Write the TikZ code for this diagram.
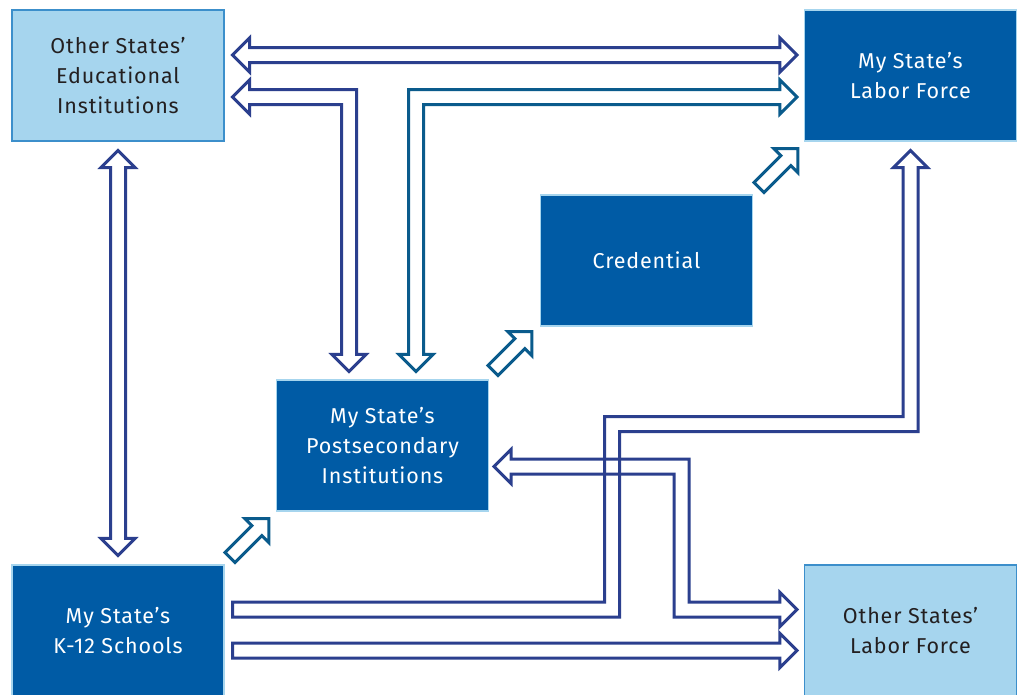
\documentclass[tikz,border=0pt]{standalone}
\usepackage{fontspec}
\setmainfont[LetterSpace=4]{Fira Sans}
\usetikzlibrary{calc}
\definecolor{lightbox}{HTML}{A6D5EE}
\definecolor{lightedge}{HTML}{3C8FCB}
\definecolor{darkbox}{HTML}{005BA5}
\definecolor{darkedge}{HTML}{A6D5EE}
\definecolor{navyar}{HTML}{2B3F8E}
\definecolor{tealar}{HTML}{0A5B8C}
\definecolor{boxtext}{HTML}{231F20}
\begin{document}
\begin{tikzpicture}[x=1pt,y=-1pt,
  box/.style={minimum width=212pt,minimum height=131pt,inner sep=0pt,align=center,
    font=\fontsize{21.5}{30}\selectfont,line width=1.2pt},
  lightnode/.style={box,fill=lightbox,draw=lightedge,text=boxtext},
  darknode/.style={box,fill=darkbox,draw=darkedge,text=white},
  navyarrow/.style={draw=navyar,line width=3pt,line join=miter},
  tealarrow/.style={draw=tealar,line width=3pt,line join=miter}]
\useasboundingbox (0,0) rectangle (1018,694);
\fill[white] (0,0) rectangle (1018,694);
% boxes
\node[lightnode] (oe) at (118,75.5) {Other States’\\Educational\\Institutions};
\node[darknode] (ml) at (910.5,75.5) {My State’s\\Labor Force};
\node[darknode] (cr) at (646.5,260.5) {Credential};
\node[darknode] (pi) at (382.5,445.5) {My State’s\\Postsecondary\\Institutions};
\node[darknode] (k12) at (118,630.5) {My State’s\\K-12 Schools};
\node[lightnode] (ol) at (910.5,630.5) {Other States’\\Labor Force};
% arrow end points
\coordinate (a1l) at ($(oe.east)+(8,-20.5)$);
\coordinate (a1r) at ($(ml.west)+(-7,-20.5)$);
\coordinate (a2l) at ($(oe.east)+(8,21.5)$);
\coordinate (a2b) at ($(pi.north)+(-33.5,-8)$);
\coordinate (a2c) at (a2b |- a2l);
\coordinate (a3b) at ($(pi.north)+(33.5,-8)$);
\coordinate (a3r) at ($(ml.west)+(-7,21.5)$);
\coordinate (a3c) at (a3b |- a3r);
\coordinate (a4t) at ($(oe.south)+(0,9)$);
\coordinate (a4b) at ($(k12.north)+(0,-9)$);
\coordinate (a5s) at ($(k12.east)+(8,-21)$);
\coordinate (a5t) at ($(ml.south)+(0,9)$);
\coordinate (c5a) at ($(a5s)+(379.5,0)$);
\coordinate (c5b) at ($(c5a)+(0,-185.5)$);
\coordinate (c5c) at (a5t |- c5b);
\coordinate (a6l) at ($(pi.east)+(5,21)$);
\coordinate (a6r) at ($(ol.west)+(-7,-21)$);
\coordinate (c6a) at ($(a6l)+(187.5,0)$);
\coordinate (c6b) at (c6a |- a6r);
\coordinate (a7s) at ($(k12.east)+(8,20)$);
\coordinate (a7r) at ($(ol.west)+(-7,20)$);
\coordinate (a8t) at ($(pi.south west)+(-7,7)$);
\coordinate (a9t) at ($(cr.south west)+(-8,5)$);
\coordinate (a10t) at ($(ml.south west)+(-6,7)$);
% A1: other ed <-> my labor force
\draw[navyarrow] (a1l) -- ++(17,-17) -- ++(0,9.5) -- ($(a1r)+(-17,-7.5)$) -- ++(0,-9.5) -- (a1r)
  -- ++(-17,17) -- ++(0,-9.5) -- ($(a1l)+(17,7.5)$) -- ++(0,9.5) -- cycle;
% A2: other ed <-> postsecondary
\draw[navyarrow] (a2l) -- ++(17,-17) -- ++(0,9.5) -- ($(a2c)+(7.5,-7.5)$) -- ($(a2b)+(7.5,-17)$)
  -- ++(9.5,0) -- (a2b) -- ++(-17,-17) -- ++(9.5,0) -- ($(a2c)+(-7.5,7.5)$)
  -- ($(a2l)+(17,7.5)$) -- ++(0,9.5) -- cycle;
% A3: postsecondary <-> my labor force
\draw[tealarrow] (a3b) -- ++(17,-17) -- ++(-9.5,0) -- ($(a3c)+(7.5,7.5)$) -- ($(a3r)+(-17,7.5)$)
  -- ++(0,9.5) -- (a3r) -- ++(-17,-17) -- ++(0,9.5) -- ($(a3c)+(-7.5,-7.5)$)
  -- ($(a3b)+(-7.5,-17)$) -- ++(-9.5,0) -- cycle;
% A4: other ed <-> k12
\draw[navyarrow] (a4t) -- ++(17,17) -- ++(-9.5,0) -- ($(a4b)+(7.5,-17)$) -- ++(9.5,0) -- (a4b)
  -- ++(-17,-17) -- ++(9.5,0) -- ($(a4t)+(-7.5,17)$) -- ++(-9.5,0) -- cycle;
% A5: k12 -> my labor force
\draw[navyarrow] ($(a5s)+(0,-7.5)$) -- ($(c5a)+(-7.5,-7.5)$) -- ($(c5b)+(-7.5,-7.5)$)
  -- ($(c5c)+(-7.5,-7.5)$) -- ($(a5t)+(-7.5,17)$) -- ++(-9.5,0) -- (a5t) -- ++(17,17)
  -- ++(-9.5,0) -- ($(c5c)+(7.5,7.5)$) -- ($(c5b)+(7.5,7.5)$) -- ($(c5a)+(7.5,7.5)$)
  -- ($(a5s)+(0,7.5)$) -- cycle;
% A6: postsecondary <-> other labor force
\draw[navyarrow] (a6l) -- ++(17,-17) -- ++(0,9.5) -- ($(c6a)+(7.5,-7.5)$) -- ($(c6b)+(7.5,-7.5)$)
  -- ($(a6r)+(-17,-7.5)$) -- ++(0,-9.5) -- (a6r) -- ++(-17,17) -- ++(0,-9.5)
  -- ($(c6b)+(-7.5,7.5)$) -- ($(c6a)+(-7.5,7.5)$) -- ($(a6l)+(17,7.5)$) -- ++(0,9.5) -- cycle;
% A7: k12 -> other labor force
\draw[navyarrow] ($(a7s)+(0,-7.5)$) -- ($(a7r)+(-17,-7.5)$) -- ++(0,-9.5) -- (a7r)
  -- ++(-17,17) -- ++(0,-9.5) -- ($(a7s)+(0,7.5)$) -- cycle;
% diagonal arrows
\foreach \t in {a8t,a9t,a10t}{
  \draw[tealarrow,shift={(\t)},rotate=45] (0,0) -- (-17,-17) -- (-17,-7) -- (-55,-7)
    -- (-55,7) -- (-17,7) -- (-17,17) -- cycle;
}
\end{tikzpicture}
\end{document}
